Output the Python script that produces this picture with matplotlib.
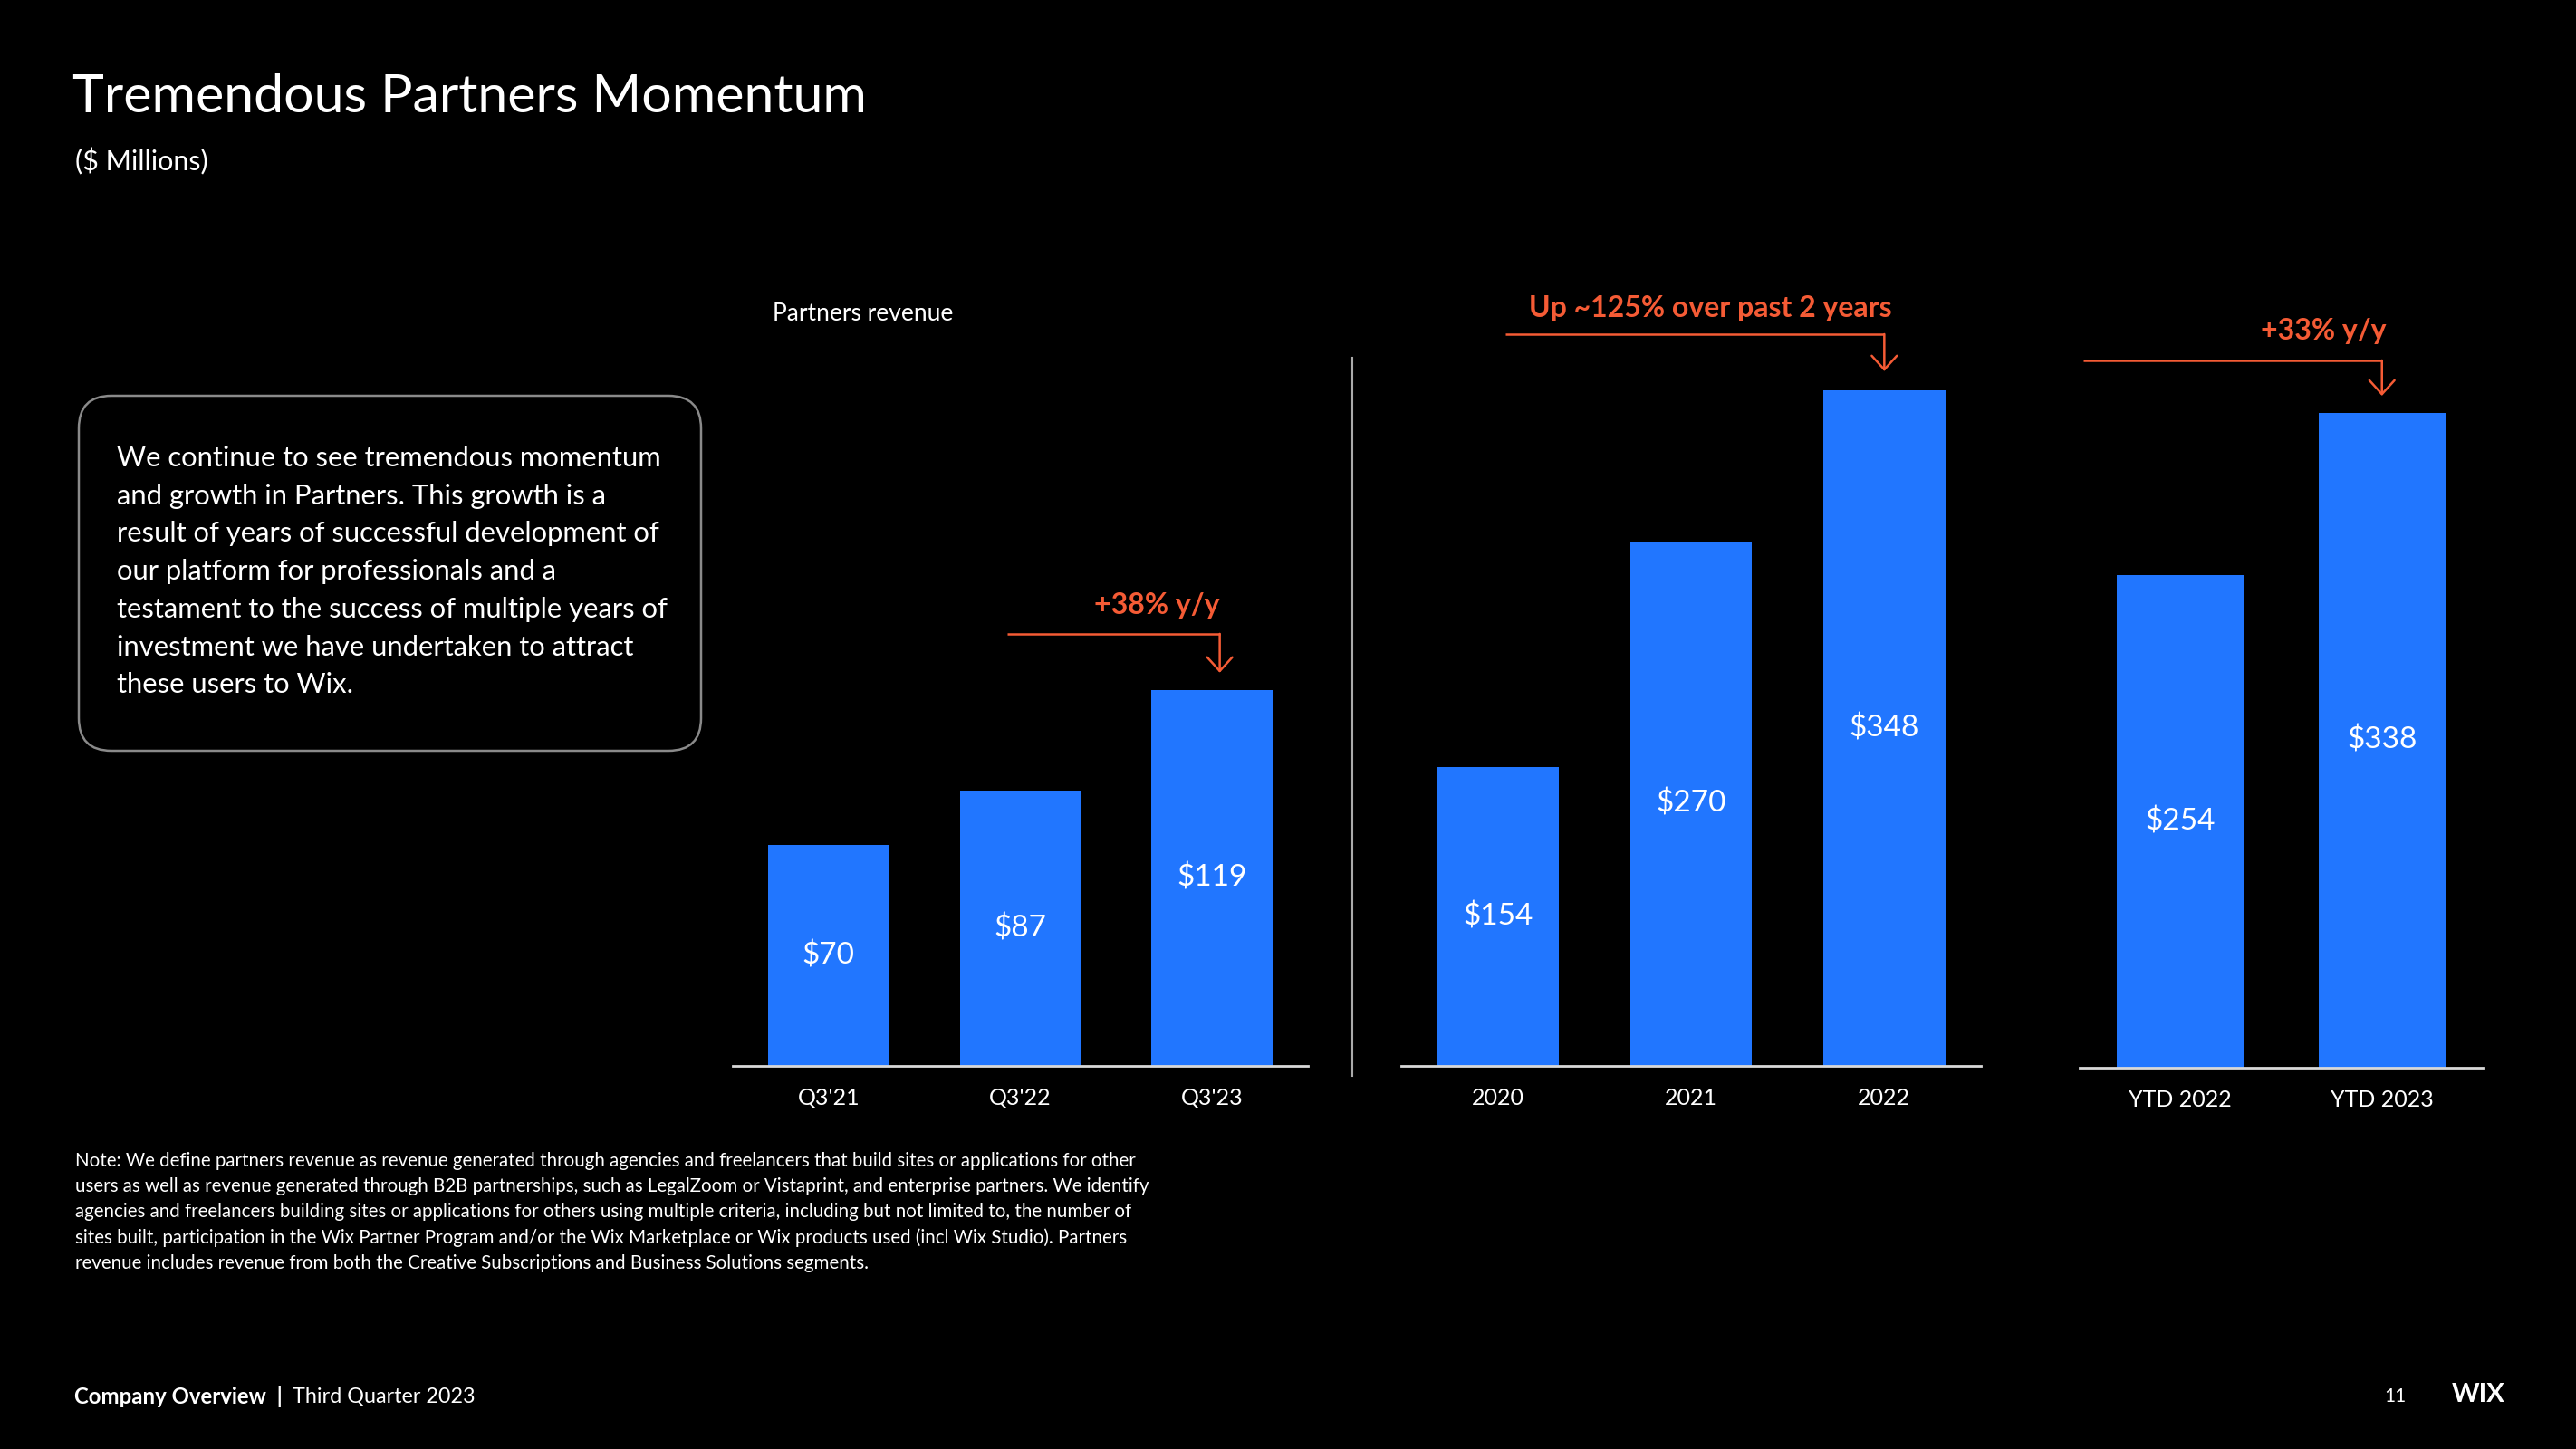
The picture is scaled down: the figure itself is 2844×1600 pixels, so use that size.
import matplotlib
matplotlib.use("Agg")
import matplotlib.pyplot as plt
from matplotlib.lines import Line2D
from matplotlib.patches import FancyBboxPatch

plt.rcParams['font.family'] = ['Lato', 'DejaVu Sans']

# data ($ millions)
quarters = ["Q3'21", "Q3'22", "Q3'23"]
quarter_rev = [70, 87, 119]
years = ["2020", "2021", "2022"]
year_rev = [154, 270, 348]
ytd = ["YTD 2022", "YTD 2023"]
ytd_rev = [254, 338]

BLUE = "#2176FF"
ORANGE = "#F55B35"
W, H = 2844, 1600

fig = plt.figure(figsize=(W / 100, H / 100), dpi=100, facecolor="black")


def fx(x):
    return x / W


def fy(y):
    return 1 - y / H


def panel(x0, x1, base, px_per_unit, labels, values):
    top = 300
    ax = fig.add_axes([fx(x0), fy(base), (x1 - x0) / W, (base - top) / H])
    ax.set_facecolor("black")
    pos = range(len(values))
    ax.bar(pos, values, width=0.63, color=BLUE)
    ax.set_xlim(-0.5, len(values) - 0.5)
    ax.set_ylim(0, (base - top) / px_per_unit)
    for s in ["top", "left", "right"]:
        ax.spines[s].set_visible(False)
    ax.spines["bottom"].set_color("#d9d9d9")
    ax.spines["bottom"].set_linewidth(2)
    ax.set_yticks([])
    ax.set_xticks(list(pos))
    ax.set_xticklabels(labels, color="white", fontsize=18)
    ax.tick_params(axis="x", length=0, pad=17)
    for i, v in enumerate(values):
        ax.text(i, v / 2, f"${v}", color="white", fontsize=24,
                ha="center", va="center")
    return ax


def growth(ax, x_start, x_bar, line_y, tip_y, label, tx, ty, ha):
    ax.plot([x_start, x_bar], [line_y, line_y], color=ORANGE, lw=1.8,
            clip_on=False, solid_capstyle="butt")
    ax.annotate("", xy=(x_bar, tip_y), xytext=(x_bar, line_y),
                arrowprops=dict(arrowstyle="->,head_length=0.55,head_width=0.5",
                                color=ORANGE, lw=1.8, shrinkA=0, shrinkB=0,
                                mutation_scale=20),
                annotation_clip=False)
    ax.text(tx, ty, label, color=ORANGE, fontsize=23, fontweight="bold",
            ha=ha, va="center", clip_on=False)


ax1 = panel(809, 1444, 1177, 3.49, quarters, quarter_rev)
ax2 = panel(1547, 2187, 1177, 2.145, years, year_rev)
ax3 = panel(2296, 2741, 1179, 2.14, ytd, ytd_rev)

growth(ax1, 0.93, 2.04, 136.7, 124.4, "+38% y/y", 1.71, 145.8, "center")
growth(ax2, 0.04, 2.0, 376.7, 357.6, "Up ~125% over past 2 years", 1.10, 390, "center")
growth(ax3, -0.48, 1.0, 365, 346.7, "+33% y/y", 1.02, 380, "right")

# separator between quarterly and annual panels
fig.add_artist(Line2D([fx(1493), fx(1493)], [fy(395), fy(1188)],
                      color="#aaaaaa", lw=1.5, transform=fig.transFigure))

# titles
fig.text(fx(80), fy(107), "Tremendous Partners Momentum", color="white",
         fontsize=42.5, va="center", ha="left")
fig.text(fx(83), fy(178), "($ Millions)", color="white", fontsize=22,
         va="center", ha="left")
fig.text(fx(853), fy(346), "Partners revenue", color="white", fontsize=19,
         va="center", ha="left")

# text box
box = FancyBboxPatch((87 / 100, (H - 829) / 100), 687 / 100, 392 / 100,
                     boxstyle="round,pad=0,rounding_size=0.36",
                     transform=fig.dpi_scale_trans, facecolor="black",
                     edgecolor="#8a8a8a", lw=1.8)
fig.add_artist(box)
box_lines = [
    "We continue to see tremendous momentum",
    "and growth in Partners. This growth is a",
    "result of years of successful development of",
    "our platform for professionals and a",
    "testament to the success of multiple years of",
    "investment we have undertaken to attract",
    "these users to Wix.",
]
for i, line in enumerate(box_lines):
    fig.text(fx(129), fy(506 + i * 41.7), line, color="white", fontsize=22.3,
             va="center", ha="left")

# footnote
note_lines = [
    "Note: We define partners revenue as revenue generated through agencies and freelancers that build sites or applications for other",
    "users as well as revenue generated through B2B partnerships, such as LegalZoom or Vistaprint, and enterprise partners. We identify",
    "agencies and freelancers building sites or applications for others using multiple criteria, including but not limited to, the number of",
    "sites built, participation in the Wix Partner Program and/or the Wix Marketplace or Wix products used (incl Wix Studio). Partners",
    "revenue includes revenue from both the Creative Subscriptions and Business Solutions segments.",
]
for i, line in enumerate(note_lines):
    fig.text(fx(83), fy(1282 + i * 28.2), line, color="white", fontsize=14.8,
             va="center", ha="left")

# footer
fig.text(fx(82), fy(1542), "Company Overview  |", color="white", fontsize=17.3,
         fontweight="bold", va="center", ha="left")
fig.text(fx(323), fy(1542), "Third Quarter 2023", color="white", fontsize=16.8,
         va="center", ha="left")
fig.text(fx(2644), fy(1542), "11", color="white", fontsize=15,
         va="center", ha="center")
fig.text(fx(2736), fy(1540), "WIX", color="white", fontsize=21,
         fontweight="bold", va="center", ha="center")

fig.savefig("out.png", dpi=100, facecolor="black")
